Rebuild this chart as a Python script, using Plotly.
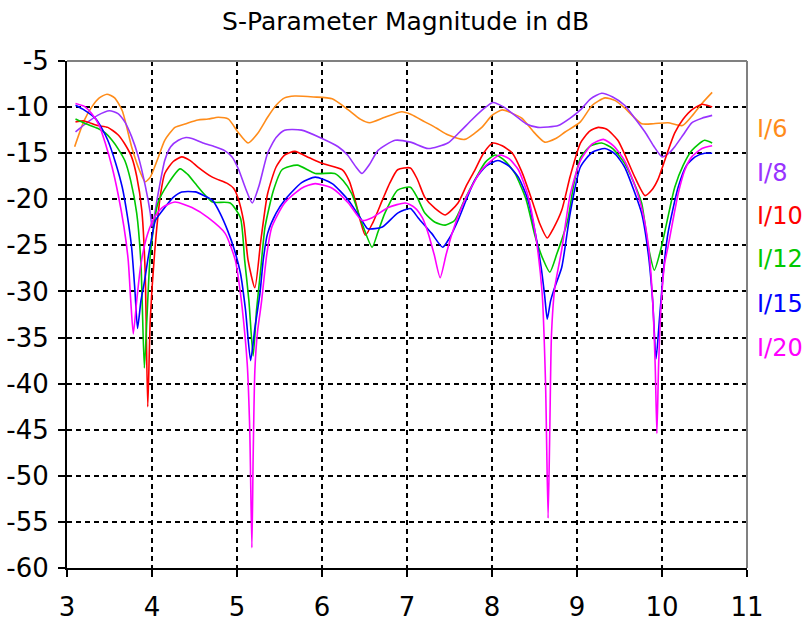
import plotly.graph_objects as go

# ---- data (frequency in GHz, magnitude in dB) ----
labels = ["I/6", "I/8", "I/10", "I/12", "I/15", "I/20"]
colors = ["#FF8C1A", "#9933FF", "#FF0000", "#00C800", "#0000FF", "#FF00FF"]

x_i6 = [3.09, 3.2, 3.29, 3.38, 3.47, 3.56, 3.65, 3.76, 3.85, 3.92, 3.98, 4.06, 4.15, 4.27, 4.4, 4.54, 4.66, 4.78, 4.9, 5.01, 5.13, 5.24, 5.36, 5.46, 5.56, 5.68, 5.9, 6.12, 6.31, 6.45, 6.56, 6.74, 6.94, 7.05, 7.21, 7.35, 7.48, 7.68, 7.88, 8.0, 8.12, 8.22, 8.35, 8.5, 8.62, 8.75, 8.86, 9.04, 9.18, 9.33, 9.45, 9.56, 9.76, 9.9, 10.07, 10.24, 10.35, 10.47, 10.59]
y_i6 = [-14.3, -11.5, -10.0, -9.0, -8.6, -9.0, -10.4, -14.3, -16.8, -18.1, -17.6, -15.8, -13.6, -12.2, -11.8, -11.4, -11.3, -11.1, -11.3, -12.7, -13.9, -12.9, -11.1, -9.8, -9.0, -8.8, -8.9, -9.1, -10.3, -11.3, -11.7, -11.1, -10.5, -10.8, -11.6, -12.3, -13.0, -13.5, -12.2, -10.9, -10.3, -10.6, -11.2, -12.8, -13.8, -13.4, -12.7, -11.6, -9.8, -9.0, -9.3, -10.1, -11.8, -11.8, -11.7, -12.0, -11.0, -9.6, -8.4]

x_i8 = [3.1, 3.22, 3.36, 3.5, 3.6, 3.68, 3.76, 3.84, 3.92, 3.98, 4.0, 4.07, 4.15, 4.22, 4.31, 4.4, 4.47, 4.6, 4.74, 4.85, 4.94, 5.02, 5.1, 5.18, 5.26, 5.36, 5.46, 5.56, 5.76, 6.0, 6.19, 6.3, 6.4, 6.47, 6.56, 6.66, 6.86, 7.04, 7.25, 7.48, 7.62, 7.76, 7.9, 8.01, 8.14, 8.27, 8.4, 8.54, 8.78, 8.92, 9.04, 9.16, 9.29, 9.42, 9.56, 9.68, 9.8, 9.9, 10.0, 10.08, 10.15, 10.25, 10.35, 10.47, 10.59]
y_i8 = [-12.7, -11.8, -10.9, -10.4, -10.7, -11.6, -13.2, -15.4, -18.5, -21.5, -23.0, -19.5, -15.8, -14.3, -13.6, -13.3, -13.4, -13.9, -14.3, -14.7, -15.4, -16.8, -18.8, -20.4, -18.5, -15.0, -13.3, -12.5, -12.5, -13.4, -14.3, -15.2, -16.5, -17.2, -16.2, -14.7, -13.6, -13.8, -14.5, -13.9, -12.7, -11.4, -10.2, -9.5, -10.0, -10.9, -11.8, -12.2, -12.0, -11.2, -10.3, -9.1, -8.5, -8.9, -9.8, -11.2, -12.7, -14.2, -15.4, -15.0, -14.3, -13.0, -11.7, -11.2, -10.9]

x_i10 = [3.1, 3.2, 3.36, 3.48, 3.6, 3.68, 3.76, 3.82, 3.88, 3.92, 3.95, 3.98, 4.04, 4.1, 4.15, 4.25, 4.35, 4.45, 4.54, 4.71, 4.89, 4.96, 5.01, 5.08, 5.13, 5.21, 5.28, 5.36, 5.46, 5.56, 5.68, 5.85, 6.0, 6.24, 6.32, 6.39, 6.45, 6.51, 6.6, 6.71, 6.8, 6.89, 7.04, 7.12, 7.21, 7.33, 7.45, 7.6, 7.7, 7.8, 7.9, 8.01, 8.12, 8.24, 8.35, 8.47, 8.56, 8.65, 8.72, 8.82, 8.92, 9.04, 9.15, 9.25, 9.35, 9.48, 9.58, 9.68, 9.8, 9.88, 9.95, 10.05, 10.15, 10.25, 10.35, 10.47, 10.59]
y_i10 = [-11.6, -11.5, -12.0, -12.2, -13.0, -14.0, -15.4, -17.5, -21.2, -28.0, -42.5, -33.0, -24.8, -19.5, -17.2, -15.9, -15.4, -15.8, -16.5, -17.6, -18.3, -18.8, -19.8, -22.5, -26.6, -29.6, -24.5, -19.4, -16.5, -15.2, -14.8, -15.5, -16.1, -16.8, -18.0, -20.1, -22.3, -23.9, -22.5, -20.1, -18.2, -16.8, -16.6, -17.8, -19.8, -21.0, -21.7, -20.4, -18.5, -16.8, -15.0, -13.9, -14.2, -15.0, -17.0, -20.1, -22.6, -24.2, -23.2, -21.2, -17.5, -13.9, -12.6, -12.2, -12.4, -13.6, -15.5, -17.6, -19.6, -19.0, -17.9, -15.3, -12.8, -11.3, -10.3, -9.7, -10.0]

x_i12 = [3.1, 3.22, 3.36, 3.45, 3.53, 3.6, 3.68, 3.75, 3.82, 3.87, 3.91, 3.94, 3.98, 4.07, 4.19, 4.33, 4.42, 4.51, 4.61, 4.71, 4.92, 5.04, 5.09, 5.14, 5.19, 5.23, 5.28, 5.33, 5.43, 5.53, 5.71, 5.92, 6.15, 6.25, 6.35, 6.47, 6.59, 6.66, 6.74, 6.89, 7.04, 7.12, 7.21, 7.33, 7.45, 7.56, 7.68, 7.8, 7.92, 8.04, 8.15, 8.27, 8.4, 8.51, 8.6, 8.68, 8.76, 8.89, 8.96, 9.04, 9.16, 9.29, 9.42, 9.56, 9.66, 9.76, 9.84, 9.91, 9.97, 10.01, 10.08, 10.15, 10.25, 10.35, 10.5, 10.59]
y_i12 = [-11.3, -11.8, -12.3, -12.8, -13.6, -14.5, -15.8, -18.0, -21.5, -27.0, -38.3, -33.0, -26.0, -20.4, -18.3, -16.7, -17.3, -18.3, -19.4, -20.3, -20.4, -22.0, -26.6, -31.0, -37.0, -32.0, -27.5, -23.0, -19.0, -16.8, -16.3, -17.2, -17.2, -18.0, -19.4, -22.6, -25.2, -23.5, -21.5, -19.0, -18.7, -19.8, -21.5, -22.5, -22.8, -22.3, -20.0, -17.9, -16.0, -15.2, -15.8, -17.2, -20.0, -24.1, -26.5, -27.9, -26.0, -22.3, -18.5, -15.5, -14.2, -13.9, -14.5, -16.1, -18.0, -20.4, -25.2, -27.7, -26.0, -24.5, -21.5, -18.7, -16.3, -14.7, -13.6, -13.9]

x_i15 = [3.1, 3.2, 3.33, 3.41, 3.48, 3.57, 3.65, 3.71, 3.76, 3.8, 3.83, 3.87, 3.91, 3.95, 4.0, 4.04, 4.15, 4.25, 4.35, 4.51, 4.61, 4.71, 4.8, 4.89, 4.97, 5.04, 5.1, 5.16, 5.21, 5.27, 5.31, 5.36, 5.46, 5.56, 5.76, 5.92, 6.12, 6.31, 6.47, 6.54, 6.71, 6.89, 7.04, 7.13, 7.29, 7.42, 7.5, 7.6, 7.7, 7.8, 7.93, 8.07, 8.2, 8.31, 8.42, 8.51, 8.58, 8.62, 8.65, 8.69, 8.74, 8.82, 8.92, 9.04, 9.18, 9.33, 9.45, 9.56, 9.66, 9.76, 9.84, 9.89, 9.93, 9.97, 10.02, 10.07, 10.19, 10.29, 10.39, 10.5, 10.59]
y_i15 = [-9.8, -10.3, -11.2, -12.3, -13.6, -16.0, -18.7, -21.8, -25.2, -30.0, -34.0, -31.0, -29.0, -26.6, -24.0, -22.3, -20.9, -19.8, -19.2, -19.2, -19.6, -20.1, -21.5, -23.4, -25.5, -28.0, -32.0, -37.5, -34.0, -30.2, -26.5, -23.7, -21.5, -20.1, -18.2, -17.6, -18.3, -20.1, -22.3, -23.2, -23.0, -21.5, -21.0, -22.0, -23.7, -25.2, -24.2, -22.3, -20.0, -17.9, -16.4, -15.8, -16.4, -17.6, -20.0, -23.7, -27.5, -30.5, -33.0, -31.0, -29.5, -27.4, -21.5, -16.5, -14.9, -14.5, -15.1, -16.5, -18.8, -21.5, -26.0, -31.0, -37.3, -33.0, -27.5, -23.7, -18.7, -16.3, -15.4, -15.0, -15.0]

x_i20 = [3.1, 3.2, 3.29, 3.38, 3.45, 3.53, 3.6, 3.67, 3.72, 3.75, 3.78, 3.82, 3.87, 3.95, 4.04, 4.12, 4.27, 4.47, 4.66, 4.86, 4.98, 5.02, 5.06, 5.12, 5.15, 5.175, 5.19, 5.21, 5.24, 5.27, 5.29, 5.35, 5.41, 5.56, 5.76, 5.92, 6.12, 6.31, 6.47, 6.59, 6.78, 6.98, 7.09, 7.18, 7.25, 7.32, 7.39, 7.46, 7.53, 7.68, 7.88, 8.09, 8.2, 8.31, 8.42, 8.51, 8.59, 8.63, 8.66, 8.68, 8.7, 8.74, 8.82, 8.92, 9.04, 9.18, 9.31, 9.43, 9.56, 9.66, 9.76, 9.84, 9.89, 9.92, 9.94, 9.96, 9.99, 10.03, 10.07, 10.19, 10.27, 10.35, 10.47, 10.59]
y_i20 = [-9.6, -9.9, -10.7, -12.0, -13.9, -16.5, -19.4, -23.0, -26.6, -31.0, -34.6, -31.0, -27.0, -23.7, -21.8, -20.9, -20.3, -20.9, -22.0, -23.7, -26.6, -28.8, -31.7, -37.8, -45.0, -57.8, -48.0, -38.6, -34.5, -32.4, -31.0, -26.0, -23.0, -20.4, -18.8, -18.3, -18.8, -20.4, -22.3, -22.0, -20.9, -20.4, -20.9, -22.0, -23.7, -26.0, -28.5, -26.0, -23.7, -20.1, -16.8, -15.2, -15.6, -16.8, -19.5, -23.7, -30.2, -40.0, -54.6, -45.0, -34.6, -29.5, -25.5, -19.5, -15.8, -14.0, -13.5, -14.2, -15.8, -18.0, -20.9, -25.0, -31.0, -38.0, -45.4, -38.0, -31.5, -27.0, -25.2, -19.4, -16.8, -15.4, -14.5, -14.2]

series_x = [x_i6, x_i8, x_i10, x_i12, x_i15, x_i20]
series_y = [y_i6, y_i8, y_i10, y_i12, y_i15, y_i20]

x_ticks = [3, 4, 5, 6, 7, 8, 9, 10, 11]
y_ticks = [-5, -10, -15, -20, -25, -30, -35, -40, -45, -50, -55, -60]

FONT = "DejaVu Sans"

fig = go.Figure()
for name, c, xs, ys in zip(labels, colors, series_x, series_y):
    fig.add_trace(go.Scatter(x=xs, y=ys, mode="lines", name=name,
                             line=dict(color=c, width=1.6, shape="spline", smoothing=0.6),
                             showlegend=False))

# right-side labels
label_y = [0.866, 0.779, 0.694, 0.609, 0.521, 0.434]
for name, c, yy in zip(labels, colors, label_y):
    fig.add_annotation(text=name, xref="paper", yref="paper", x=1.0, y=yy,
                       xanchor="left", yanchor="middle", showarrow=False,
                       borderpad=0, xshift=9,
                       font=dict(family=FONT, size=24, color=c))

# top and right frame lines (grey)
fig.add_shape(type="line", xref="paper", yref="paper", x0=0, x1=1, y0=1, y1=1,
              line=dict(color="#808080", width=2))
fig.add_shape(type="line", xref="paper", yref="paper", x0=1, x1=1, y0=0, y1=1,
              line=dict(color="#808080", width=2))

fig.update_layout(
    width=808, height=621,
    margin=dict(l=67, r=61, t=61, b=53),
    paper_bgcolor="white", plot_bgcolor="white",
    font=dict(family=FONT, size=26, color="black"),
    title=dict(text="S-Parameter Magnitude in dB", x=0.502, xanchor="center",
               y=0.965, yanchor="middle", yref="container",
               font=dict(family=FONT, size=25, color="black")),
    xaxis=dict(range=[3, 11], tickmode="array", tickvals=x_ticks,
               ticktext=[str(v) for v in x_ticks], automargin=False,
               showgrid=True, gridcolor="black", griddash="5px,4px", gridwidth=1.5,
               showline=True, linecolor="black", linewidth=2,
               ticks="outside", ticklen=7, tickcolor="black", tickwidth=2,
               ticklabelstandoff=8,
               zeroline=False, tickfont=dict(family=FONT, size=26)),
    yaxis=dict(range=[-60, -5], tickmode="array", tickvals=y_ticks,
               ticktext=[str(v) for v in y_ticks], automargin=False,
               showgrid=True, gridcolor="black", griddash="5px,4px", gridwidth=1.5,
               showline=True, linecolor="black", linewidth=2,
               ticks="outside", ticklen=7, tickcolor="black", tickwidth=2,
               ticklabelstandoff=4,
               zeroline=False, tickfont=dict(family=FONT, size=26)),
)

fig.write_html("out.html", config={"displayModeBar": False},
               post_script="document.body.style.margin='0';document.body.style.overflow='hidden';")
